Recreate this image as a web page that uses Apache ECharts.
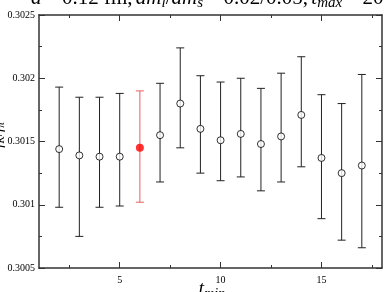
<!DOCTYPE html>
<html><head><meta charset="utf-8">
<script src="https://cdn.jsdelivr.net/npm/echarts@6/dist/echarts.min.js"></script>
<style>html,body{margin:0;padding:0;background:#fff}#c{width:390px;height:292px}</style>
</head><body><div id="c"></div>
<script>
const tmin    = [2, 3, 4, 5, 6, 7, 8, 9, 10, 11, 12, 13, 14, 15, 16, 17];
const central = [0.30144, 0.30139, 0.30138, 0.30138, 0.30145, 0.30155, 0.30180, 0.30160, 0.30151, 0.30156, 0.30148, 0.30154, 0.30171, 0.30137, 0.30125, 0.30131];
const upper   = [0.30193, 0.30185, 0.30185, 0.30188, 0.30190, 0.30196, 0.30224, 0.30202, 0.30197, 0.30200, 0.30192, 0.30204, 0.30217, 0.30187, 0.30180, 0.30203];
const lower   = [0.30098, 0.30075, 0.30098, 0.30099, 0.30102, 0.30118, 0.30145, 0.30125, 0.30119, 0.30122, 0.30111, 0.30118, 0.30130, 0.30089, 0.30072, 0.30066];
const highlightT = 6;
const xMajorTicks = [5, 10, 15];
const xMinorTicks = [2.5, 7.5, 12.5, 17.5];

const serif = '"Liberation Serif", "DejaVu Serif", serif';
const axisColor = '#333';

const normalPts = [], redPts = [], bars = [];
tmin.forEach((t, i) => {
  bars.push([t, lower[i], upper[i], t === highlightT ? 1 : 0]);
  if (t === highlightT) redPts.push([t, central[i]]); else normalPts.push([t, central[i]]);
});

const fmt = v => String(parseFloat(Number(v).toFixed(4)));

const xBase = { type: 'value', min: 1, max: 18, gridIndex: 0,
  axisLine: { show: true, onZero: false, lineStyle: { color: axisColor, width: 1.5 } },
  splitLine: { show: false } };

const richSerif = (big, small, pad) => ({
  i: { fontFamily: serif, fontStyle: 'italic', fontSize: big, fill: '#000' },
  r: { fontFamily: serif, fontSize: big, fill: '#000' },
  s: { fontFamily: serif, fontStyle: 'italic', fontSize: small, fill: '#000', padding: [pad, 0, 0, 0] }
});

const chart = echarts.init(document.getElementById('c'), null, { renderer: 'canvas' });
chart.setOption({
  animation: false,
  backgroundColor: '#fff',
  grid: { left: 39, right: 8, top: 15, bottom: 24, containLabel: false, outerBoundsMode: 'none' },
  xAxis: [
    Object.assign({}, xBase, { position: 'bottom',
      axisTick: { show: true, inside: true, length: 6, customValues: xMajorTicks, lineStyle: { color: axisColor } },
      axisLabel: { show: true, customValues: xMajorTicks, fontFamily: serif, fontSize: 10, color: '#000', margin: 7 } }),
    Object.assign({}, xBase, { position: 'bottom', axisLine: { show: false },
      axisTick: { show: true, inside: true, length: 3, customValues: xMinorTicks, lineStyle: { color: axisColor } },
      axisLabel: { show: false } }),
    Object.assign({}, xBase, { position: 'top',
      axisTick: { show: true, inside: true, length: 6, customValues: xMajorTicks, lineStyle: { color: axisColor } },
      axisLabel: { show: false } }),
    Object.assign({}, xBase, { position: 'top', axisLine: { show: false },
      axisTick: { show: true, inside: true, length: 3, customValues: xMinorTicks, lineStyle: { color: axisColor } },
      axisLabel: { show: false } })
  ],
  yAxis: [
    { type: 'value', min: 0.3005, max: 0.3025, interval: 0.0005, position: 'left',
      axisLine: { show: true, onZero: false, lineStyle: { color: '#666', width: 2 } },
      axisTick: { show: true, inside: true, length: 6, lineStyle: { color: axisColor } },
      minorTick: { show: true, splitNumber: 2, length: 3, lineStyle: { color: axisColor } },
      axisLabel: { fontFamily: serif, fontSize: 10, color: '#000', margin: 4, formatter: fmt },
      splitLine: { show: false } },
    { type: 'value', min: 0.3005, max: 0.3025, interval: 0.0005, position: 'right',
      axisLine: { show: true, onZero: false, lineStyle: { color: axisColor, width: 1.5 } },
      axisTick: { show: true, inside: true, length: 6, lineStyle: { color: axisColor } },
      minorTick: { show: true, splitNumber: 2, length: 3, lineStyle: { color: axisColor } },
      axisLabel: { show: false },
      splitLine: { show: false } }
  ],
  graphic: [
    { type: 'text', left: 31, top: -12, silent: true,
      style: { text: '{i|a} {r|= 0.12 fm,} {i|am}{s|l}{r|/}{i|am}{s|s} {r|= 0.02/0.05,} {i|t}{s|max} {r|= 20}',
               rich: richSerif(21, 15, 9) } },
    { type: 'text', x: 212, y: 289, silent: true,
      style: { text: '{i|t}{s|min}', align: 'center', verticalAlign: 'middle', rich: richSerif(19, 14, 10) } },
    { type: 'text', x: -2, y: 135, rotation: Math.PI / 2, silent: true,
      style: { text: '{i|f}{s|K}{r|/}{i|f}{s|π}', align: 'center', verticalAlign: 'middle', rich: richSerif(15, 11, 7) } }
  ],
  series: [
    { type: 'custom', xAxisIndex: 0, yAxisIndex: 0, data: bars, z: 2,
      renderItem: (params, api) => {
        const x = api.value(0);
        const lo = api.coord([x, api.value(1)]);
        const hi = api.coord([x, api.value(2)]);
        const red = api.value(3) === 1;
        const col = red ? '#e86060' : '#222';
        const w = 4;
        const st = { stroke: col, lineWidth: 1 };
        return { type: 'group', children: [
          { type: 'line', shape: { x1: lo[0], y1: lo[1], x2: hi[0], y2: hi[1] }, style: st },
          { type: 'line', shape: { x1: lo[0] - w, y1: lo[1], x2: lo[0] + w, y2: lo[1] }, style: st },
          { type: 'line', shape: { x1: hi[0] - w, y1: hi[1], x2: hi[0] + w, y2: hi[1] }, style: st }
        ] };
      } },
    { type: 'scatter', xAxisIndex: 0, yAxisIndex: 0, data: normalPts, symbol: 'circle', symbolSize: 7, z: 3,
      itemStyle: { color: '#fff', borderColor: '#000', borderWidth: 1 } },
    { type: 'scatter', xAxisIndex: 0, yAxisIndex: 0, data: redPts, symbol: 'circle', symbolSize: 8, z: 3,
      itemStyle: { color: '#ff0000', borderColor: '#ff0000', borderWidth: 0 } }
  ]
});
</script></body></html>
